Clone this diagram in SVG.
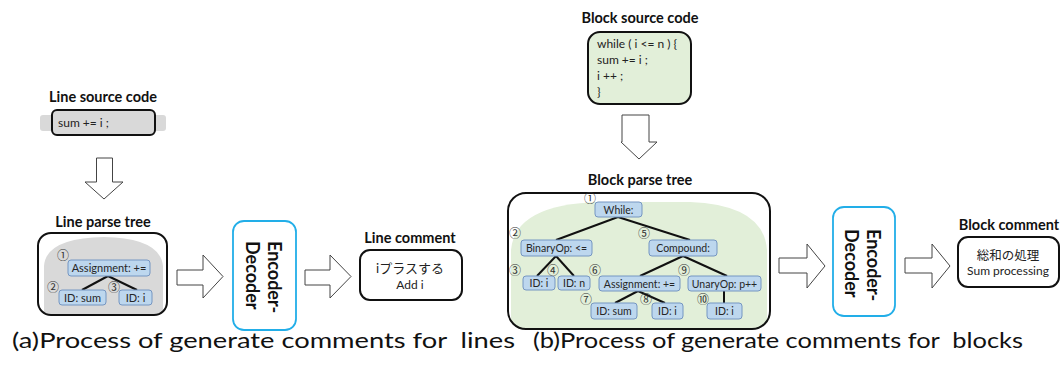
<svg xmlns="http://www.w3.org/2000/svg" width="1061" height="365" viewBox="0 0 1061 365">
  <defs>
    <clipPath id="clip-line-tree">
      <rect x="38" y="233" width="129" height="82" rx="13"/>
    </clipPath>
    <clipPath id="clip-block-tree">
      <rect x="508" y="193" width="262" height="136" rx="18"/>
    </clipPath>
  </defs>
  <style>
    .title { font-family: Lato, "Liberation Sans", sans-serif; font-weight: bold; font-size: 14.5px; fill: #111; text-anchor: middle; }
    .code { font-family: Lato, "Liberation Sans", sans-serif; font-size: 12px; fill: #222; }
    .frame { stroke: #111; stroke-width: 2; }
    .frame.empty { fill: none; }
    .frame.white { fill: #fff; }
    .frame.gray { fill: #d9d9d9; }
    .frame.green { fill: #e2efd9; }
    .node rect { fill: #bdd7ee; stroke: #7596c2; stroke-width: 1; }
    .node text { font-family: Lato, "Liberation Sans", sans-serif; font-size: 11px; fill: #262626; text-anchor: middle; }
    .small text { font-size: 10.5px; }
    .num { font-family: "Noto Sans CJK JP", "DejaVu Sans", sans-serif; font-size: 12px; fill: #333; text-anchor: middle; }
    .edge { stroke: #111; stroke-width: 2; fill: none; }
    .bigarrow { fill: #fff; stroke: #444; stroke-width: 1; }
    .model { fill: #fff; stroke: #22aee8; stroke-width: 1.8; }
    .model-text { font-family: Lato, "Liberation Sans", sans-serif; font-weight: bold; font-size: 18px; fill: #111; }
    .comment { font-family: Lato, "Noto Sans CJK JP", sans-serif; font-size: 13px; fill: #222; text-anchor: middle; }
    .caption { font-family: Lato, "Liberation Sans", sans-serif; font-size: 21px; fill: #111; white-space: pre; }
  </style>

  <!-- ============ (a) line pipeline ============ -->
  <g id="line-source">
    <text class="title" x="103" y="102">Line source code</text>
    <rect x="40" y="115" width="126" height="16" rx="3" fill="#d9d9d9"/>
    <rect class="frame gray" x="52" y="110" width="103" height="25" rx="5"/>
    <text class="code" x="58" y="127">sum += i ;</text>
  </g>

  <g id="line-parse-tree">
    <text class="title" x="103" y="227">Line parse tree</text>
    <path d="M44 316 L44 266 Q46 238 104 237 Q160 238 163 266 L163 316 Z" fill="#d9d9d9" clip-path="url(#clip-line-tree)"/>
    <rect class="frame empty" x="38" y="233" width="129" height="82" rx="13"/>
    <g class="tree-edges">
      <line class="edge" x1="108" y1="276" x2="82" y2="290"/>
      <line class="edge" x1="108" y1="276" x2="137" y2="290"/>
    </g>
    <g class="node" id="l-n1">
      <rect x="68" y="260" width="82" height="16" rx="3"/>
      <text x="109" y="272">Assignment: +=</text>
    </g>
    <g class="node" id="l-n2">
      <rect x="59" y="290" width="47" height="15" rx="3"/>
      <text x="82.5" y="301.5">ID: sum</text>
    </g>
    <g class="node" id="l-n3">
      <rect x="119" y="290" width="33" height="15" rx="3"/>
      <text x="135.5" y="301.5">ID: i</text>
    </g>
    <text class="num" x="63" y="260">①</text>
    <text class="num" x="53" y="292">②</text>
    <text class="num" x="114" y="292">③</text>
  </g>

  <g id="line-model">
    <rect class="model" x="233" y="221" width="63" height="109" rx="11"/>
    <text class="model-text" transform="translate(268 241) rotate(90)">Encoder-</text>
    <text class="model-text" transform="translate(246 241) rotate(90)">Decoder</text>
  </g>

  <g id="line-comment">
    <text class="title" x="410" y="243">Line comment</text>
    <rect class="frame white" x="360" y="250" width="102" height="50" rx="10"/>
    <text class="comment" x="410" y="273">iプラスする</text>
    <text class="comment" x="410" y="289" style="font-size:12px">Add i</text>
  </g>

  <!-- ============ (b) block pipeline ============ -->
  <g id="block-source">
    <text class="title" x="640" y="23">Block source code</text>
    <rect class="frame green" x="588" y="32" width="103" height="72" rx="12"/>
    <text class="code" x="597" y="48">while ( i &lt;= n ) {</text>
    <text class="code" x="597" y="64">sum += i ;</text>
    <text class="code" x="597" y="80">i ++ ;</text>
    <text class="code" x="597" y="96">}</text>
  </g>

  <g id="block-parse-tree">
    <text class="title" x="640" y="185">Block parse tree</text>
    <path d="M511 330 L511 250 Q515 204 600 202 L690 202 Q764 205 767 250 L767 330 Z" fill="#e2efd9" clip-path="url(#clip-block-tree)"/>
    <rect class="frame empty" x="508" y="193" width="262" height="136" rx="18"/>
    <g class="tree-edges">
      <line class="edge" x1="618" y1="217" x2="556" y2="240"/>
      <line class="edge" x1="618" y1="217" x2="690" y2="240"/>
      <line class="edge" x1="556" y1="256" x2="537" y2="276"/>
      <line class="edge" x1="556" y1="256" x2="574" y2="276"/>
      <line class="edge" x1="683" y1="256" x2="640" y2="276"/>
      <line class="edge" x1="683" y1="256" x2="727" y2="276"/>
      <line class="edge" x1="638" y1="291" x2="615" y2="303"/>
      <line class="edge" x1="638" y1="291" x2="665" y2="303"/>
      <line class="edge" x1="724" y1="291" x2="724" y2="303"/>
    </g>
    <g class="node small" id="b-n1">
      <rect x="595" y="202" width="47" height="15" rx="3"/>
      <text x="618.5" y="213.5">While:</text>
    </g>
    <g class="node small" id="b-n2">
      <rect x="521" y="240" width="71" height="16" rx="3"/>
      <text x="556.5" y="252">BinaryOp: &lt;=</text>
    </g>
    <g class="node small" id="b-n3">
      <rect x="523" y="276" width="32" height="14" rx="3"/>
      <text x="539" y="287">ID: i</text>
    </g>
    <g class="node small" id="b-n4">
      <rect x="558" y="276" width="32" height="14" rx="3"/>
      <text x="574" y="287">ID: n</text>
    </g>
    <g class="node small" id="b-n5">
      <rect x="649" y="240" width="68" height="16" rx="3"/>
      <text x="683" y="252">Compound:</text>
    </g>
    <g class="node small" id="b-n6">
      <rect x="599" y="276" width="81" height="15" rx="3"/>
      <text x="639.5" y="287.5">Assignment: +=</text>
    </g>
    <g class="node small" id="b-n7">
      <rect x="591" y="303" width="46" height="16" rx="3"/>
      <text x="614" y="315">ID: sum</text>
    </g>
    <g class="node small" id="b-n8">
      <rect x="652" y="303" width="31" height="16" rx="3"/>
      <text x="667.5" y="315">ID: i</text>
    </g>
    <g class="node small" id="b-n9">
      <rect x="688" y="276" width="73" height="15" rx="3"/>
      <text x="724.5" y="287.5">UnaryOp: p++</text>
    </g>
    <g class="node small" id="b-n10">
      <rect x="707" y="303" width="35" height="16" rx="3"/>
      <text x="724.5" y="315">ID: i</text>
    </g>
    <text class="num" x="590" y="203">①</text>
    <text class="num" x="515" y="238">②</text>
    <text class="num" x="515" y="275">③</text>
    <text class="num" x="553" y="275">④</text>
    <text class="num" x="644" y="238">⑤</text>
    <text class="num" x="595" y="275">⑥</text>
    <text class="num" x="586" y="304">⑦</text>
    <text class="num" x="646" y="304">⑧</text>
    <text class="num" x="684" y="275">⑨</text>
    <text class="num" x="703" y="304">⑩</text>
  </g>

  <g id="block-model">
    <rect class="model" x="833" y="207" width="62" height="109" rx="11"/>
    <text class="model-text" transform="translate(867 229) rotate(90)">Encoder-</text>
    <text class="model-text" transform="translate(845 229) rotate(90)">Decoder</text>
  </g>

  <g id="block-comment">
    <text class="title" x="1009" y="230">Block comment</text>
    <rect class="frame white" x="958" y="237" width="101" height="50" rx="10"/>
    <text class="comment" x="1008" y="260" style="font-family:'Noto Sans CJK JP',sans-serif;font-size:12.5px">総和の処理</text>
    <text class="comment" x="1008" y="275" style="font-size:12px">Sum processing</text>
  </g>

  <!-- ============ block arrows between stages ============ -->
  <g id="connectors">
    <path class="bigarrow" d="M96.5 158 L112.5 158 L112.5 182 L123 182 L104 199 L85 182 L96.5 182 Z"/>
    <path class="bigarrow" d="M177 270 L203 270 L203 255 L223 276.5 L203 298 L203 285 L177 285 Z"/>
    <path class="bigarrow" d="M305 270 L330 270 L330 255 L351 276.5 L330 298 L330 285 L305 285 Z"/>
    <path class="bigarrow" d="M622 115 L649 115 L649 142 L657 142 L639 159 L621 142 L622 142 Z"/>
    <path class="bigarrow" d="M779 258 L807 258 L807 244 L825 266 L807 288 L807 273 L779 273 Z"/>
    <path class="bigarrow" d="M905 258 L932 258 L932 244 L950 266 L932 288 L932 273 L905 273 Z"/>
  </g>

  <!-- captions -->
  <text class="caption" x="12" y="348" xml:space="preserve" textLength="503" lengthAdjust="spacingAndGlyphs">(a)Process of generate comments for  lines</text>
  <text class="caption" x="533" y="348" xml:space="preserve" textLength="490" lengthAdjust="spacingAndGlyphs">(b)Process of generate comments for  blocks</text>
</svg>
